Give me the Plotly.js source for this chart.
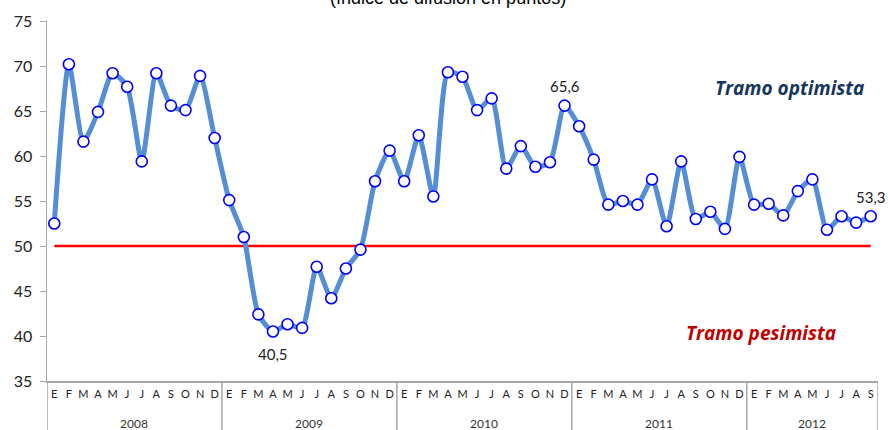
<!DOCTYPE html>
<html>
<head>
<meta charset="utf-8">
<script src="https://cdn.plot.ly/plotly-3.0.1.min.js"></script>
<style>
  html, body { margin: 0; padding: 0; background: #fff; }
  #grafico { width: 888px; height: 430px; }
</style>
</head>
<body>
<div id="grafico"></div>
<script>
// Meses (iniciales) y años del eje X
const anios = ['2008', '2009', '2010', '2011', '2012'];
const mesesPorAnio = [12, 12, 12, 12, 9];
const inicialesMes = ['E', 'F', 'M', 'A', 'M', 'J', 'J', 'A', 'S', 'O', 'N', 'D'];

// Índice de difusión (puntos), ene-2008 a sep-2012
const indice2008 = [52.5, 70.2, 61.6, 64.9, 69.2, 67.7, 59.4, 69.2, 65.6, 65.1, 68.9, 62.0];
const indice2009 = [55.1, 51.0, 42.4, 40.5, 41.3, 40.9, 47.7, 44.2, 47.5, 49.6, 57.2, 60.6];
const indice2010 = [57.2, 62.3, 55.5, 69.3, 68.8, 65.1, 66.4, 58.6, 61.1, 58.8, 59.3, 65.6];
const indice2011 = [63.3, 59.6, 54.6, 55.0, 54.6, 57.4, 52.2, 59.4, 53.0, 53.8, 51.9, 59.9];
const indice2012 = [54.6, 54.7, 53.4, 56.1, 57.4, 51.8, 53.3, 52.6, 53.3];

// Umbral entre tramo optimista y pesimista
const umbral = 50;

// Etiquetas destacadas: [índice del punto, texto, desplazamiento vertical]
const destacados = [
  [15, '40,5', -22],
  [35, '65,6', 20],
  [56, '53,3', 19]
];

const valores = [].concat(indice2008, indice2009, indice2010, indice2011, indice2012);
const x = valores.map((v, i) => i);
const ticktext = [];
mesesPorAnio.forEach(n => { for (let m = 0; m < n; m++) ticktext.push(inicialesMes[m]); });

// Separadores de años y etiquetas de año
const shapes = [];
const annotations = [];
let inicio = 0;
shapes.push({ type: 'line', xref: 'x', yref: 'paper', x0: -0.5, x1: -0.5, y0: 0, y1: -0.14,
  line: { color: '#a6a6a6', width: 1.5 } });
anios.forEach((a, k) => {
  const fin = inicio + mesesPorAnio[k];
  shapes.push({ type: 'line', xref: 'x', yref: 'paper', x0: fin - 0.5, x1: fin - 0.5, y0: 0, y1: -0.14,
    line: { color: '#a6a6a6', width: 1.5 } });
  annotations.push({ xref: 'x', yref: 'paper', x: (inicio + fin - 1) / 2, y: -0.117,
    text: a, showarrow: false, yanchor: 'middle',
    font: { family: 'Lato, Open Sans, sans-serif', size: 12, color: '#333' } });
  inicio = fin;
});

// Línea roja en 50
shapes.push({ type: 'line', xref: 'x', yref: 'y', x0: 0, x1: valores.length - 1, y0: umbral, y1: umbral,
  line: { color: '#ff0000', width: 2.5 }, layer: 'below' });

destacados.forEach(d => {
  annotations.push({ xref: 'x', yref: 'y', x: d[0], y: valores[d[0]], text: d[1], showarrow: false,
    yshift: d[2], font: { family: 'Lato, Open Sans, sans-serif', size: 15, color: '#222' } });
});

annotations.push({ xref: 'x', yref: 'y', x: 50.4, y: 67.6, text: '<b><i>Tramo optimista</i></b>',
  showarrow: false, font: { family: 'Open Sans, sans-serif', size: 19, color: '#17365d' } });
annotations.push({ xref: 'x', yref: 'y', x: 48.5, y: 40.3, text: '<b><i>Tramo pesimista</i></b>',
  showarrow: false, font: { family: 'Open Sans, sans-serif', size: 19, color: '#c00000' } });
annotations.push({ xref: 'paper', yref: 'paper', x: 0.482, y: 1.03, yanchor: 'bottom',
  text: '(índice de difusión en puntos)', showarrow: false,
  font: { family: 'Liberation Sans, Arial, sans-serif', size: 18, color: '#000' } });

const datos = [{
  x: x,
  y: valores,
  type: 'scatter',
  mode: 'lines+markers',
  line: { color: '#558ed5', width: 5, shape: 'spline', smoothing: 0.6 },
  marker: { size: 11, color: '#ffffff', line: { color: '#0000ff', width: 1.6 } },
  hoverinfo: 'y'
}];

const layout = {
  width: 888,
  height: 430,
  margin: { l: 47, r: 10, t: 21, b: 49 },
  paper_bgcolor: '#fff',
  plot_bgcolor: '#fff',
  showlegend: false,
  xaxis: {
    range: [-0.5, valores.length - 0.5],
    tickvals: x,
    ticktext: ticktext,
    ticks: '',
    showgrid: false,
    zeroline: false,
    showline: true,
    linecolor: '#a6a6a6',
    linewidth: 1.5,
    ticklabelstandoff: 2,
    tickfont: { family: 'Lato, Open Sans, sans-serif', size: 11, color: '#222' }
  },
  yaxis: {
    range: [35, 75],
    dtick: 5,
    ticks: 'outside',
    ticklen: 6,
    tickcolor: '#a6a6a6',
    showgrid: false,
    zeroline: false,
    showline: true,
    linecolor: '#a6a6a6',
    linewidth: 1.5,
    ticklabelstandoff: 4,
    tickfont: { family: 'Lato, Open Sans, sans-serif', size: 16, color: '#222' }
  },
  shapes: shapes,
  annotations: annotations
};

Plotly.newPlot('grafico', datos, layout, { displayModeBar: false, staticPlot: true });
</script>
</body>
</html>
